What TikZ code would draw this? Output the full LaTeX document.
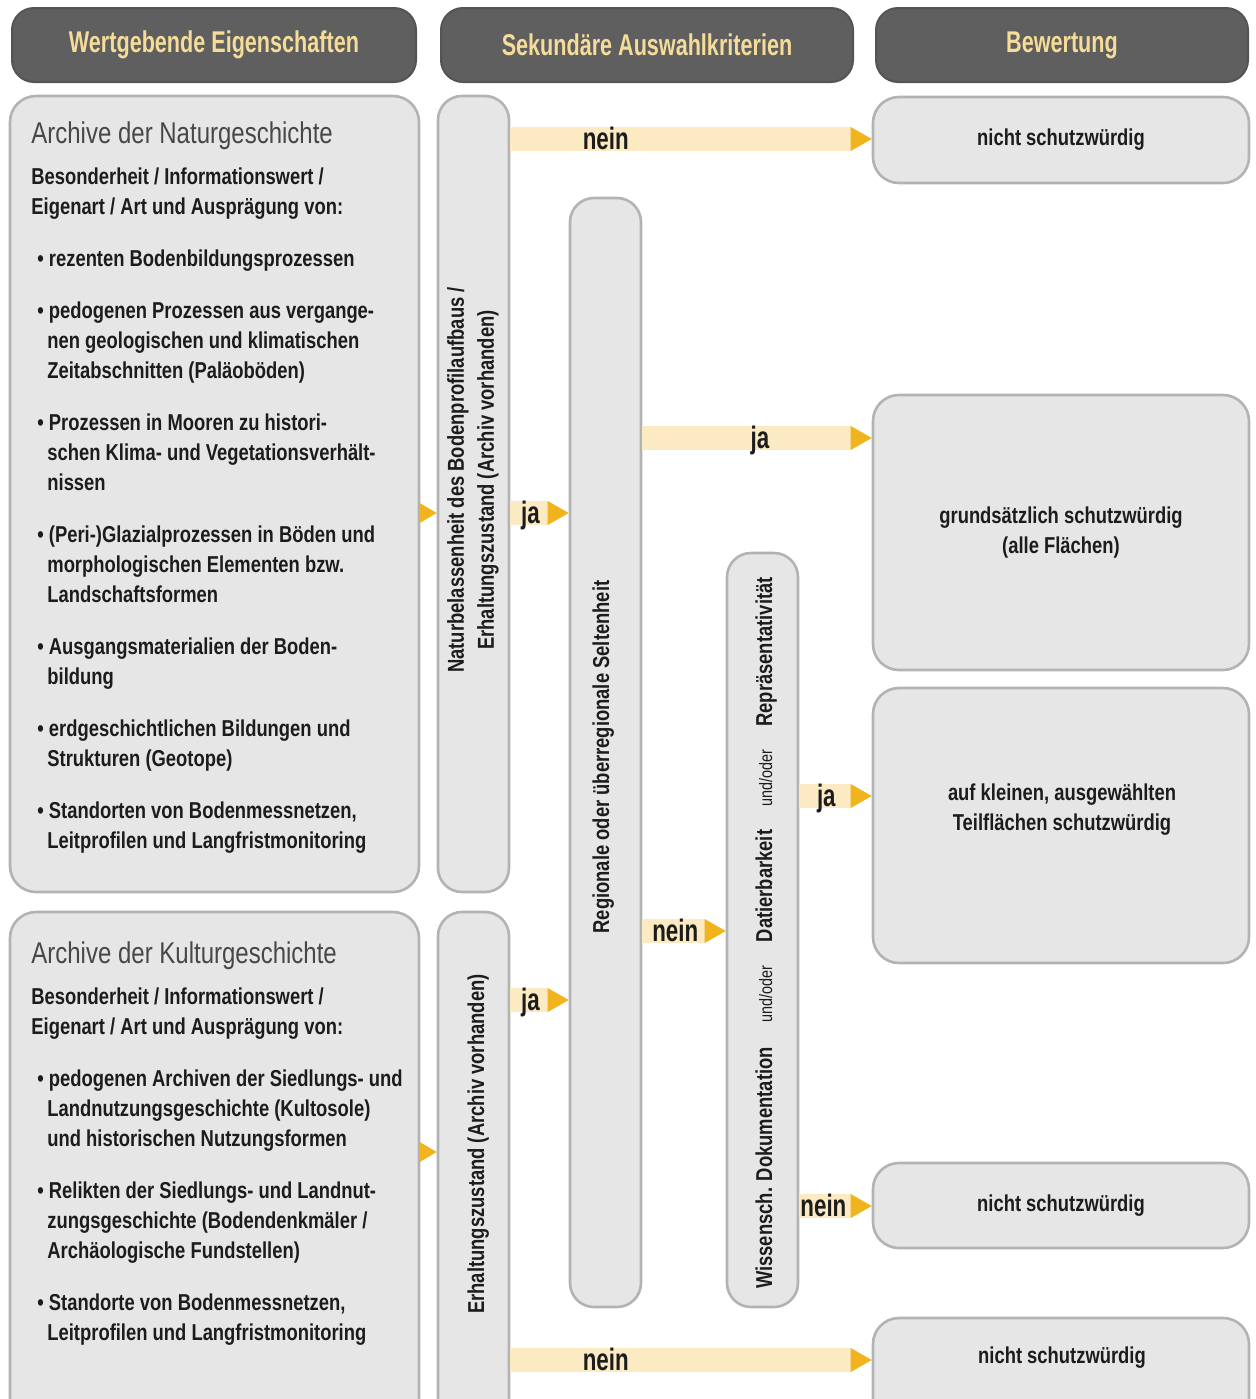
\documentclass[tikz,border=0pt]{standalone}
\usepackage{fontspec}
\setmainfont{Liberation Sans}[FakeStretch=0.8]
\newfontfamily\narrowfont{Liberation Sans}[FakeStretch=0.72]
\usepackage{xcolor}
\usetikzlibrary{arrows.meta}

\definecolor{hdgray}{HTML}{5F5F5F}
\definecolor{hdline}{HTML}{545454}
\definecolor{hdtext}{HTML}{F5DC98}
\definecolor{boxgray}{HTML}{E6E6E6}
\definecolor{boxline}{HTML}{B3B3B3}
\definecolor{bandyellow}{HTML}{FBEAC2}
\definecolor{tipyellow}{HTML}{F1B31E}
\definecolor{ink}{HTML}{1C1C1C}
\definecolor{titlegray}{HTML}{474747}

\newcommand\bodytext{\fontsize{11.5}{15}\selectfont\bfseries}
\newcommand\smalltext{\fontsize{9}{11}\selectfont}

\begin{document}
\begin{tikzpicture}[x=0.5pt,y=-0.5pt,
  head/.style={draw=hdline,fill=hdgray,line width=1pt,rounded corners=11pt,minimum height=37pt,text=hdtext,font={\narrowfont\fontsize{15}{18}\selectfont\bfseries}},
  panel/.style={draw=boxline,fill=boxgray,line width=1.3pt,rounded corners=13pt},
  archive/.style={panel,minimum width=204.5pt},
  pillar/.style={panel,minimum width=35.5pt,rounded corners=12pt},
  result/.style={panel,minimum width=188pt,align=center,text=ink,font=\bodytext},
  rtext/.style={align=center,text=ink,font=\bodytext},
  atitle/.style={anchor=base west,inner sep=0pt,text=titlegray,font=\fontsize{15}{18}\selectfont},
  atext/.style={anchor=base west,inner sep=0pt,align=left,text=ink,font=\bodytext},
  vtext/.style={rotate=90,inner sep=0pt,text=ink,font=\bodytext},
  flow/.style={draw=bandyellow,line width=12pt,-{Triangle[length=10.5pt,width=12pt,line width=0pt,color=tipyellow]}},
  feed/.style={draw=tipyellow,line width=0.5pt,-{Triangle[length=8.5pt,width=10pt,line width=0pt,color=tipyellow]}},
  lbl/.style={anchor=base,yshift=-5pt,inner sep=0pt,text=ink,font={\narrowfont\fontsize{15.5}{18}\selectfont\bfseries}}]

\path[use as bounding box] (0,0) rectangle (1256,1399);
\clip (0,0) rectangle (1256,1399);
\fill[white] (0,0) rectangle (1256,1399);

\node[head,minimum width=202pt] (h1) at (214,45) {Wertgebende Eigenschaften};
\node[head,minimum width=206pt] (h2) at (647,45) {Sekundäre Auswahlkriterien};
\node[head,minimum width=186pt] (h3) at (1062,45) {Bewertung};

\node[archive,minimum height=398pt] (nat) at (214.5,494) {};
\node[archive,minimum height=264pt] (kul) at (214.5,1176) {};
\node[pillar,minimum height=398pt] (natb) at (473.5,494) {};
\node[pillar,minimum height=264pt] (erh) at (473.5,1176) {};
\node[pillar,minimum height=554.5pt] (selt) at (605.5,752.5) {};
\node[pillar,minimum height=377pt] (krit) at (762.5,930) {};

\node[result,minimum height=43pt] (out1) at (1061,140) {nicht schutzwürdig};
\node[result,minimum height=137.5pt] (out2) at (1061,532.5) {grundsätzlich schutzwürdig\\(alle Flächen)};
\node[result,minimum height=137.5pt] (out3) at (1061,825.5) {};
\node[rtext] (out3t) at (1062,810) {auf kleinen, ausgewählten\\Teilflächen schutzwürdig};
\node[result,minimum height=42.5pt] (out4) at (1061,1205.5) {nicht schutzwürdig};
\node[result,minimum height=61pt] (out5) at (1061,1379) {};
\node[rtext] (out5t) at (1062,1358) {nicht schutzwürdig};

\node[atitle] (natT) at (31,143) {Archive der Naturgeschichte};
\node[atext] (natL) at (31,848) {Besonderheit / Informationswert /\\
Eigenart / Art und Ausprägung von:\\[11pt]
\hspace*{3pt}\textbullet\ rezenten Bodenbildungsprozessen\\[11pt]
\hspace*{3pt}\textbullet\ pedogenen Prozessen aus vergange-\\
\hspace*{8pt}nen geologischen und klimatischen\\
\hspace*{8pt}Zeitabschnitten (Paläoböden)\\[11pt]
\hspace*{3pt}\textbullet\ Prozessen in Mooren zu histori-\\
\hspace*{8pt}schen Klima- und Vegetationsverhält-\\
\hspace*{8pt}nissen\\[11pt]
\hspace*{3pt}\textbullet\ (Peri-)Glazialprozessen in Böden und\\
\hspace*{8pt}morphologischen Elementen bzw.\\
\hspace*{8pt}Landschaftsformen\\[11pt]
\hspace*{3pt}\textbullet\ Ausgangsmaterialien der Boden-\\
\hspace*{8pt}bildung\\[11pt]
\hspace*{3pt}\textbullet\ erdgeschichtlichen Bildungen und\\
\hspace*{8pt}Strukturen (Geotope)\\[11pt]
\hspace*{3pt}\textbullet\ Standorten von Bodenmessnetzen,\\
\hspace*{8pt}Leitprofilen und Langfristmonitoring};

\node[atitle] (kulT) at (31,963) {Archive der Kulturgeschichte};
\node[atext] (kulL) at (31,1340) {Besonderheit / Informationswert /\\
Eigenart / Art und Ausprägung von:\\[11pt]
\hspace*{3pt}\textbullet\ pedogenen Archiven der Siedlungs- und\\
\hspace*{8pt}Landnutzungsgeschichte (Kultosole)\\
\hspace*{8pt}und historischen Nutzungsformen\\[11pt]
\hspace*{3pt}\textbullet\ Relikten der Siedlungs- und Landnut-\\
\hspace*{8pt}zungsgeschichte (Bodendenkmäler /\\
\hspace*{8pt}Archäologische Fundstellen)\\[11pt]
\hspace*{3pt}\textbullet\ Standorte von Bodenmessnetzen,\\
\hspace*{8pt}Leitprofilen und Langfristmonitoring};

\node[vtext,align=center] (natbT) at (473,480) {Naturbelassenheit des Bodenprofilaufbaus /\\Erhaltungszustand (Archiv vorhanden)};
\node[vtext,anchor=base] (erhT) at (484,1144) {Erhaltungszustand (Archiv vorhanden)};
\node[vtext,anchor=base] (seltT) at (609,757) {Regionale oder überregionale Seltenheit};
\node[vtext,anchor=base] (repT) at (772,652) {Repräsentativität};
\node[vtext,anchor=base,font=\smalltext] (or1) at (772,778) {und/oder};
\node[vtext,anchor=base] (datT) at (772,886) {Datierbarkeit};
\node[vtext,anchor=base,font=\smalltext] (or2) at (772,994) {und/oder};
\node[vtext,anchor=base] (dokT) at (772,1168) {Wissensch. Dokumentation};

\coordinate (r1) at (0,139);
\coordinate (r2) at (0,513);
\coordinate (r3) at (0,438);
\coordinate (r4) at (0,796);
\coordinate (r5) at (0,931);
\coordinate (r6) at (0,1000);
\coordinate (r7) at (0,1152);
\coordinate (r8) at (0,1206);
\coordinate (r9) at (0,1360);

\draw[flow] (natb.east |- r1) -- node[lbl,pos=.264] {nein} (out1.west |- r1);
\draw[feed] (nat.east |- r2) -- (natb.west |- r2);
\draw[flow] (natb.east |- r2) -- node[lbl,pos=.344] {ja} (selt.west |- r2);
\draw[flow] (selt.east |- r3) -- node[lbl,pos=.513] {ja} (out2.west |- r3);
\draw[flow] (krit.east |- r4) -- node[lbl,pos=.373] {ja} (out3.west |- r4);
\draw[flow] (selt.east |- r5) -- node[lbl,pos=.395] {nein} (krit.west |- r5);
\draw[flow] (erh.east |- r6) -- node[lbl,pos=.344] {ja} (selt.west |- r6);
\draw[feed] (kul.east |- r7) -- (erh.west |- r7);
\draw[flow] (krit.east |- r8) -- node[lbl,pos=.333] {nein} (out4.west |- r8);
\draw[flow] (erh.east |- r9) -- node[lbl,pos=.264] {nein} (out5.west |- r9);
\end{tikzpicture}
\end{document}
